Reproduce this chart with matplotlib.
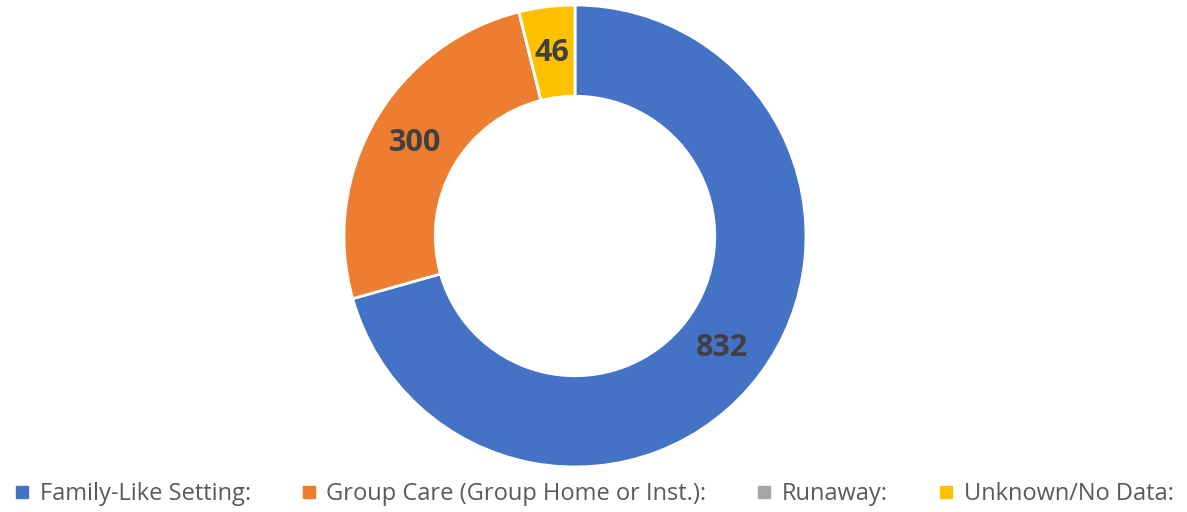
import matplotlib.pyplot as plt
import numpy as np
from matplotlib.lines import Line2D

categories = ['Family-Like Setting:', 'Group Care (Group Home or Inst.):', 'Runaway:', 'Unknown/No Data:']
counts = [832, 300, 0, 46]
colors = ['#4472C4', '#ED7D31', '#A5A5A5', '#FFC000']

plt.rcParams['font.family'] = ['Open Sans', 'DejaVu Sans']

fig = plt.figure(figsize=(11.87, 5.12), dpi=100)
# pie area: centre ~ (575, 236) px, radius ~231 px
ax = fig.add_axes([(575 - 231) / 1187, (512 - 467) / 512, 462 / 1187, 462 / 512])

wedges, _ = ax.pie(counts, colors=colors, startangle=90, counterclock=False,
                   radius=1.0, wedgeprops=dict(width=0.395, edgecolor='white', linewidth=2))

# data labels in the middle of the ring
total = sum(counts)
angle = 90.0
for v in counts:
    span = 360.0 * v / total
    mid = np.deg2rad(angle - span / 2)
    angle -= span
    if v == 0:
        continue
    r = 0.8
    ax.text(r * np.cos(mid), r * np.sin(mid), str(v), ha='center', va='center',
            fontsize=22, fontweight='bold', color='#404040')

ax.set_xlim(-1, 1)
ax.set_ylim(-1, 1)
ax.set_aspect('equal')
ax.axis('off')

handles = [Line2D([], [], marker='s', linestyle='none', markersize=8,
                  markerfacecolor=c, markeredgecolor=c) for c in colors]
fig.legend(handles, categories, loc='center', bbox_to_anchor=(0.5, 1 - 494 / 512),
           ncol=4, frameon=False, fontsize=17, labelcolor='#595959',
           handlelength=0.7, handletextpad=0.4, columnspacing=2.1)

fig.savefig('out.png', dpi=100)
